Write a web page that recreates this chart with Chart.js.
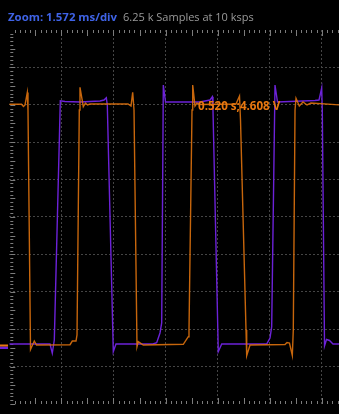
<!DOCTYPE html>
<html>
<head>
<meta charset="utf-8">
<script src="https://cdn.jsdelivr.net/npm/chart.js@4.4.0/dist/chart.umd.min.js"></script>
<style>
  html, body { margin: 0; padding: 0; background: #000; }
  #wrap { position: relative; width: 339px; height: 414px; background: #000; }
  #header { position: absolute; left: 8px; top: 10px; font-family: "Open Sans", sans-serif; font-size: 11px; line-height: 14px; white-space: nowrap; }
  #zoom { color: #3f63e6; font-weight: bold; font-size: 11.4px; }
  #samples { color: #9a9a9a; margin-left: 6px; }
  #cursor { position: absolute; left: 198px; top: 99px; color: #e8770f; font: bold 11.6px "Open Sans", sans-serif; line-height: 14px; white-space: nowrap; }
</style>
</head>
<body>
<div id="wrap">
  <canvas id="scope" width="339" height="414"></canvas>
  <div id="header"><span id="zoom">Zoom: 1.572 ms/div</span><span id="samples">6.25 k Samples at 10 ksps</span></div>
  <div id="cursor">0.520 s;4.608 V</div>
</div>
<script>
// time base / vertical scale of the view
const MS_PER_DIV = 1.572;
const X_MAX = 9.948;          // ms visible in the window
const VOLTS_PER_DIV = 0.713;
const Y_MAX = 6.025;
const Y_MIN = -1.106;

// channel 1 (orange) - time in ms, volts
const ch1Time = [0, 0.368, 0.428, 0.474, 0.543, 0.564, 0.640, 0.754, 0.821, 1.832,
  1.901, 2.013, 2.043, 2.112, 2.133, 2.233, 2.299, 2.360, 2.435, 3.582,
  3.672, 3.723, 3.763, 3.853, 3.892, 3.965, 4.043, 5.250, 5.401, 5.422,
  5.513, 5.534, 5.603, 5.663, 5.754, 6.840, 6.946, 6.976, 7.142, 7.163,
  7.263, 8.319, 8.379, 8.454, 8.539, 8.569, 8.621, 8.651, 8.750, 8.862,
  8.983, 9.103, 10.0];
const ch1Volts = [4.608, 4.608, 4.566, 4.595, 4.833, 4.500, -0.067, 0.095, 0.019, 0.025,
  0.095, 0.095, 0.210, 4.500, 4.932, 4.563, 4.633, 4.595, 4.614, 4.614,
  4.576, 4.837, 4.500, -0.013, 0.082, 0.051, 0.019, 0.032, 0.177, 0.305,
  4.500, 4.976, 4.576, 4.633, 4.604, 4.614, 4.767, 4.309, 0.305, -0.185,
  0.019, 0.029, 0.067, 0.057, -0.181, 0.305, 4.500, 4.723, 4.576, 4.652,
  4.595, 4.633, 4.595];

// channel 2 (purple)
const ch2Time = [0, 1.228, 1.297, 1.358, 1.539, 1.681, 2.133, 2.737, 2.857, 2.927,
  2.957, 3.138, 3.219, 4.336, 4.447, 4.547, 4.598, 4.647, 4.713, 5.754,
  5.905, 6.056, 6.125, 6.146, 6.306, 6.409, 7.766, 7.866, 7.917, 8.017,
  8.092, 9.224, 9.345, 9.426, 9.444, 9.511, 9.571, 9.661, 9.767, 10.0];
const ch2Volts = [0.038, 0.038, -0.139, 0.114, 4.677, 4.662, 4.652, 4.671, 4.690, 4.732,
  4.595, -0.109, 0.038, 0.038, 0.063, 0.248, 0.439, 4.976, 4.652, 4.652,
  4.671, 4.690, 4.753, 4.500, -0.109, 0.038, 0.038, 0.153, 0.368, 4.976,
  4.652, 4.681, 4.690, 4.919, 4.500, 0, 0.124, 0.105, 0.038, 0.038];

const xGrid = [1, 2, 3, 4, 5, 6].map(k => k * MS_PER_DIV);
const yGrid = [1, 2, 3, 4, 5, 6, 7, 8, 9].map(k => Y_MAX - k * VOLTS_PER_DIV);

const ORANGE = 'rgba(226,116,14,0.88)';
const PURPLE = '#6c22d8';
const GRID = '#454545';

function toPoints(ts, vs) {
  return ts.map((t, i) => ({ x: t, y: vs[i] }));
}

// small ruler ticks on the frame + channel offset markers
const scopeDecor = {
  id: 'scopeDecor',
  beforeDatasetsDraw(chart) {
    const { ctx, chartArea: a, scales: { x, y } } = chart;
    ctx.save();
    ctx.strokeStyle = '#7c7c7c';
    ctx.lineWidth = 1;
    ctx.beginPath();
    const xStep = MS_PER_DIV / 10;
    for (let i = 1; i * xStep <= X_MAX; i++) {
      const px = Math.round(x.getPixelForValue(i * xStep)) + 0.5;
      const len = i % 5 === 0 ? 6 : 3;
      ctx.moveTo(px, a.top);
      ctx.lineTo(px, a.top + len);
      ctx.moveTo(px, a.bottom);
      ctx.lineTo(px, a.bottom - len);
    }
    const yStep = VOLTS_PER_DIV / 10;
    for (let i = 1; Y_MAX - i * yStep > Y_MIN; i++) {
      const py = Math.round(y.getPixelForValue(Y_MAX - i * yStep)) + 0.5;
      const len = i % 5 === 0 ? 5 : 3;
      ctx.moveTo(a.left + 1, py);
      ctx.lineTo(a.left + 1 + len, py);
    }
    ctx.stroke();
    ctx.restore();
  },
  afterDraw(chart) {
    const { ctx, scales: { y } } = chart;
    const zero = y.getPixelForValue(0);
    ctx.save();
    ctx.fillStyle = PURPLE;
    ctx.fillRect(0, zero + 0.5, 8, 2.5);
    ctx.fillStyle = '#e8770f';
    ctx.fillRect(0, zero - 1.5, 8, 2);
    ctx.restore();
  }
};

const ctx = document.getElementById('scope').getContext('2d');
new Chart(ctx, {
  type: 'line',
  data: {
    datasets: [
      { label: 'Channel 1', data: toPoints(ch1Time, ch1Volts), borderColor: ORANGE, borderWidth: 1.4, pointRadius: 0, tension: 0 },
      { label: 'Channel 2', data: toPoints(ch2Time, ch2Volts), borderColor: PURPLE, borderWidth: 1.4, pointRadius: 0, tension: 0 }
    ]
  },
  options: {
    responsive: false,
    animation: false,
    layout: { padding: { left: 9.3, top: 30, right: 0, bottom: 10 } },
    plugins: { legend: { display: false }, tooltip: { enabled: false } },
    scales: {
      x: {
        type: 'linear', min: 0, max: X_MAX,
        afterBuildTicks: s => { s.ticks = xGrid.map(v => ({ value: v })); },
        ticks: { display: false },
        grid: { color: GRID, drawTicks: false },
        border: { display: false, dash: [2, 2] }
      },
      y: {
        type: 'linear', min: Y_MIN, max: Y_MAX,
        afterBuildTicks: s => { s.ticks = yGrid.map(v => ({ value: v })); },
        ticks: { display: false },
        grid: { color: GRID, drawTicks: false },
        border: { display: false, dash: [2, 2] }
      }
    }
  },
  plugins: [scopeDecor]
});
</script>
</body>
</html>
